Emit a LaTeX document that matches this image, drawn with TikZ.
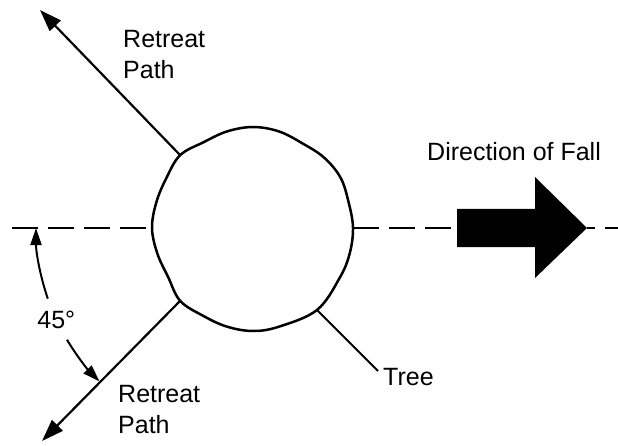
\documentclass[tikz,border=0pt]{standalone}
\usepackage{fontspec}
\setmainfont{Liberation Sans}
\usetikzlibrary{arrows.meta}
\begin{document}
\begin{tikzpicture}[x=1pt,y=1pt,
        txt/.style={font=\fontsize{25}{31}\selectfont, inner sep=0pt, align=left},
        retreat/.style={line width=2.2pt, -{Triangle[length=22pt,width=15pt]}},
        axis/.style={line width=2pt, dash pattern=on 26pt off 10pt},
        angarrow/.style={line width=2pt, -{Triangle[length=17pt,width=11pt]}}]
        \useasboundingbox (0,0) rectangle (618,445);
        % the tree, seen from above (a slightly rough circle)
        \coordinate (c) at (253,217);
        \draw[line width=2.5pt, shift={(c)}] plot[smooth cycle, tension=0.6] coordinates {
            (0:100) (15:99) (30:101) (45:100) (60:98) (75:100) (90:101) (105:100)
            (120:99) (135:103) (150:100) (165:100) (180:101) (195:99) (210:98)
            (225:103) (240:101) (255:102) (270:103) (285:102) (308:104) (330:100) (345:100)};
        \coordinate (tul) at ([shift={(135:103)}]c);
        \coordinate (tll) at ([shift={(225:103)}]c);
        \coordinate (tlr) at ([shift={(308:104)}]c);
        \coordinate (tw)  at ([shift={(180:101)}]c);
        \coordinate (te)  at ([shift={(0:100)}]c);
        % the line of the fall
        \coordinate (axw)   at (12,217);
        \coordinate (fallw) at (457,217);
        \coordinate (fallt) at (587,217);
        \coordinate (axe)   at (618,217);
        \draw[axis] (axw) -- (tw);
        \draw[axis] (te) -- (fallw);
        \draw[axis, dash pattern=on 8pt off 10pt on 26pt off 10pt] (fallt) -- (axe);
        % the big arrow
        \fill (fallw) ++(0,19) -- (535,236) -- (535,268) -- (fallt)
            -- (535,167) -- (535,198) -- (457,198) -- cycle;
        \node[txt, anchor=north west] (dir) at (427,303) {Direction of Fall};
        % the two retreat paths
        \coordinate (ulend) at (40,435);
        \coordinate (llend) at (42,4);
        \draw[retreat] (tul) -- (ulend);
        \draw[retreat] (tll) -- (llend);
        \node[txt, anchor=north west] (rup) at (123,415) {Retreat\\Path};
        \node[txt, anchor=north west] (rlow) at (118,60) {Retreat\\Path};
        % the 45 degree mark
        \node[txt] (ang) at ([shift={(205:217)}]c) {45°};
        \draw[angarrow] ([shift={(199:217)}]c) arc[start angle=199, end angle=180, radius=217];
        \draw[angarrow] ([shift={(211:217)}]c) arc[start angle=211, end angle=225, radius=217];
        % the tree label
        \node[txt, anchor=north west] (tree) at (383,77) {Tree};
        \draw[line width=2pt] (tlr) -- ([shift={(-5,-3)}]tree.north west);
    \end{tikzpicture}
\end{document}
